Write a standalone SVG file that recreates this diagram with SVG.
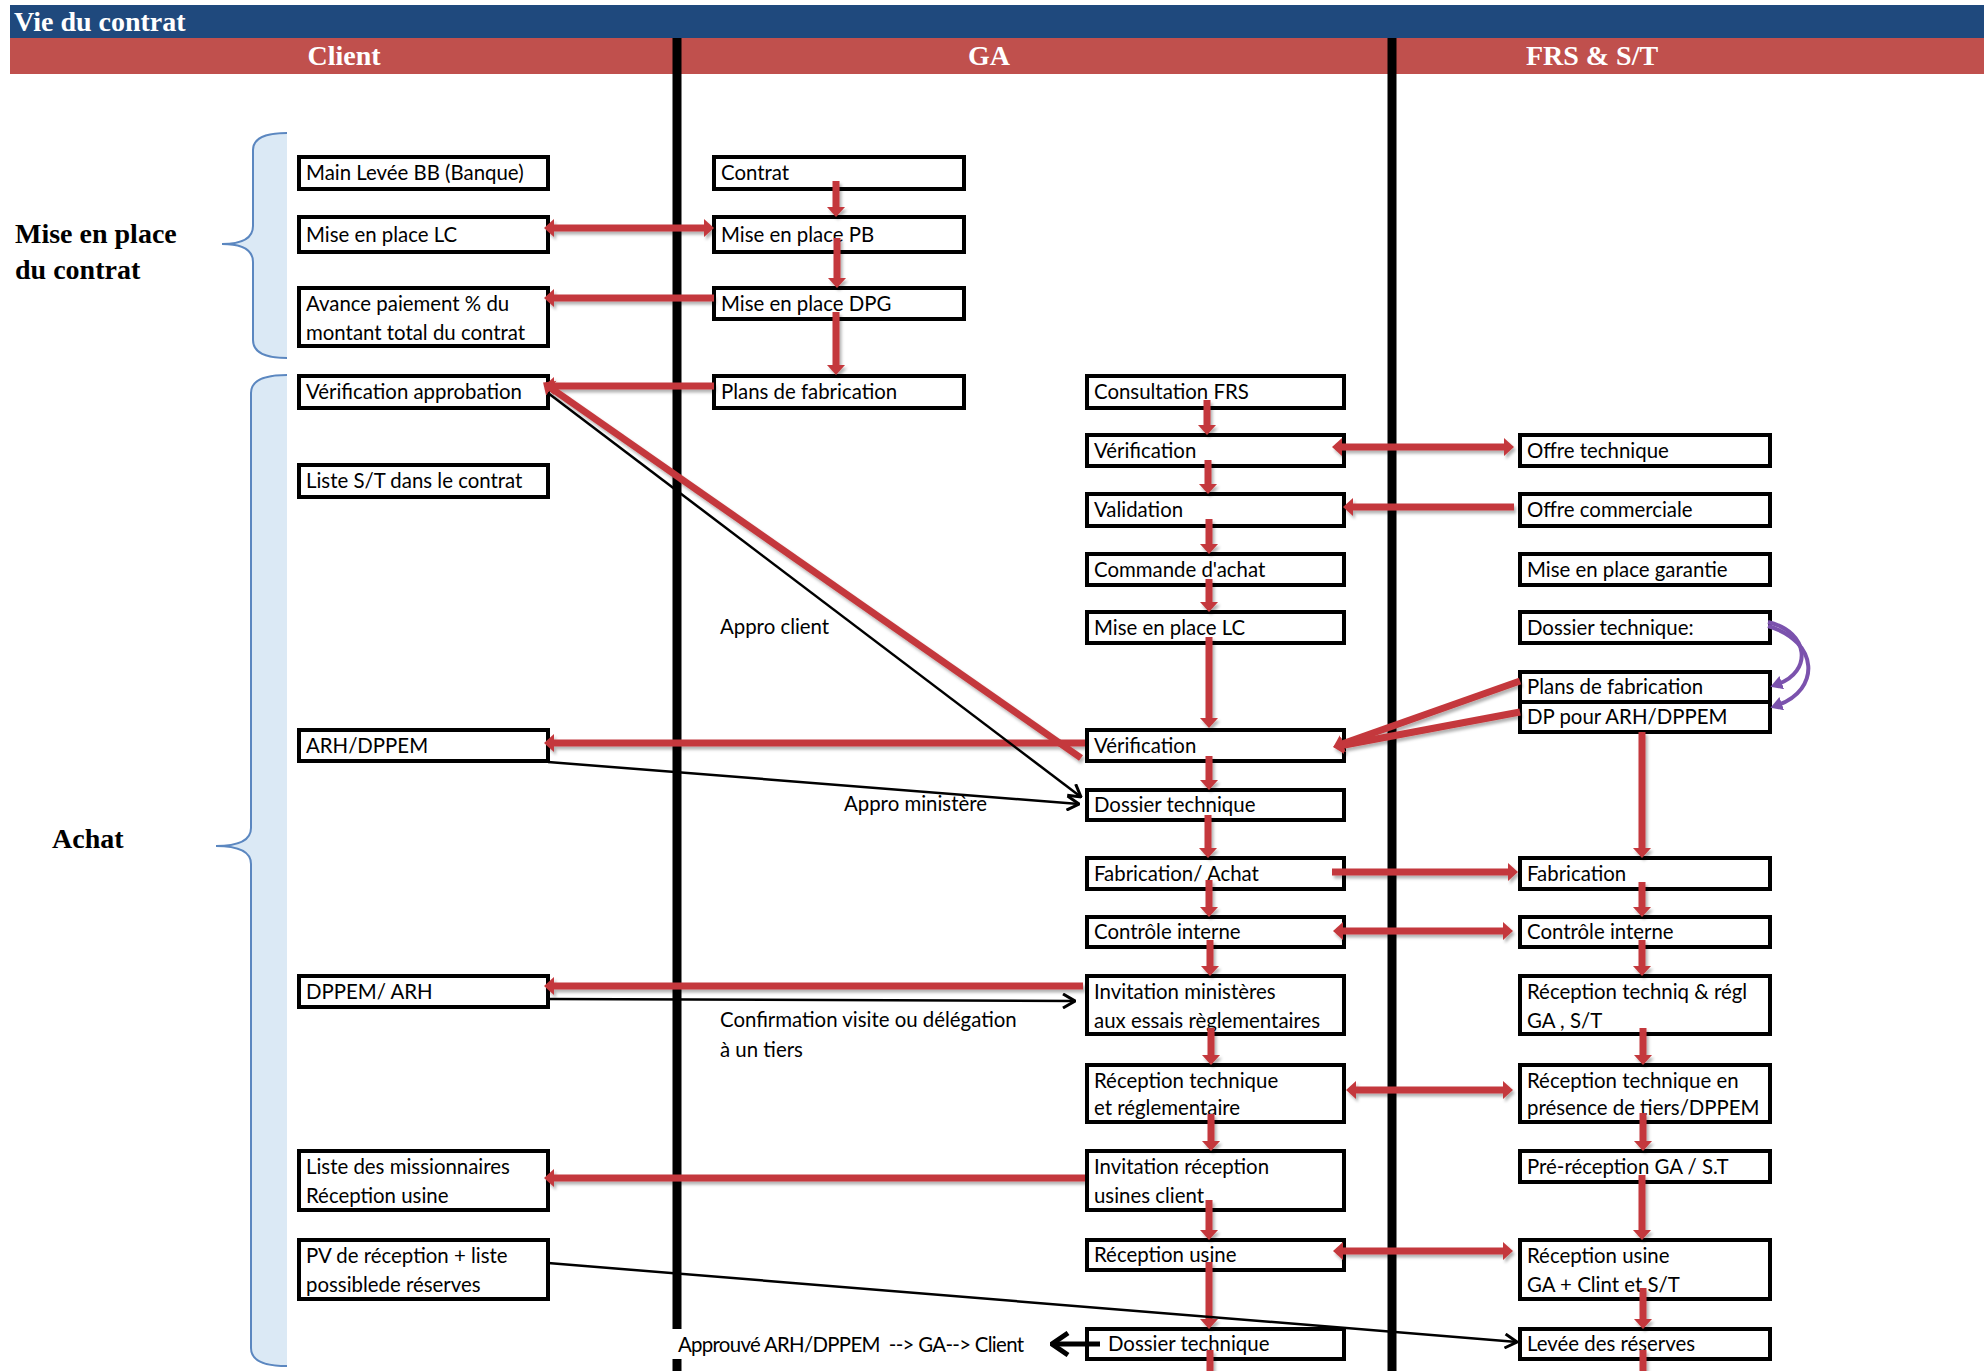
<svg xmlns="http://www.w3.org/2000/svg" width="1988" height="1371" viewBox="0 0 1988 1371">
  <style>
    .box { fill: #fff; stroke: #000; stroke-width: 4; }
    .t { font-family: Lato, "Liberation Sans", sans-serif; font-size: 20.4px; fill: #000; }
    .hd { font-family: "Liberation Serif", serif; font-weight: bold; fill: #fff; }
    .side { font-family: "Liberation Serif", serif; font-weight: bold; font-size: 28px; fill: #000; }
    .red { fill: none; stroke: #c4393c; stroke-width: 7; }
    .blk { fill: none; stroke: #000; stroke-width: 2.5; }
    .lane { stroke: #000; stroke-width: 9; }
    .brace { fill: none; stroke: #5b87c0; stroke-width: 2; }
    .bracefill { fill: #dbe9f5; stroke: none; }
  </style>
  <defs>
    <filter id="sh" filterUnits="userSpaceOnUse" x="0" y="0" width="1988" height="1371">
      <feDropShadow dx="2" dy="3" stdDeviation="1.5" flood-color="#000" flood-opacity="0.3"/>
    </filter>
    <marker id="rh" markerUnits="userSpaceOnUse" viewBox="0 0 10 18" refX="4" refY="9" markerWidth="10" markerHeight="18" orient="auto-start-reverse">
      <path d="M0,0 L10,9 L0,18 Z" fill="#c4393c"/>
    </marker>
    <marker id="bh" markerUnits="userSpaceOnUse" viewBox="0 0 14 16" refX="13" refY="8" markerWidth="14" markerHeight="16" orient="auto">
      <path d="M1,1 L13,8 L1,15" fill="none" stroke="#000" stroke-width="3"/>
    </marker>
    <marker id="bhb" markerUnits="userSpaceOnUse" viewBox="0 0 20 26" refX="18" refY="13" markerWidth="20" markerHeight="26" orient="auto">
      <path d="M2,2 L18,13 L2,24" fill="none" stroke="#000" stroke-width="5"/>
    </marker>
    <marker id="ph" markerUnits="userSpaceOnUse" viewBox="0 0 12 14" refX="4" refY="7" markerWidth="12" markerHeight="14" orient="auto">
      <path d="M0,0 L12,7 L0,14 Z" fill="#7b52ad"/>
    </marker>
  </defs>

  <rect width="1988" height="1371" fill="#fff"/>

  <!-- title and lane headers -->
  <g id="header">
    <rect x="10" y="5" width="1974" height="33" fill="#1f497d"/>
    <text class="hd" x="14" y="31" font-size="28">Vie du contrat</text>
    <rect x="10" y="38" width="1974" height="36" fill="#c0504d"/>
    <text class="hd" x="344" y="65" font-size="28" text-anchor="middle">Client</text>
    <text class="hd" x="989" y="65" font-size="28" text-anchor="middle">GA</text>
    <text class="hd" x="1592" y="65" font-size="28" text-anchor="middle">FRS &amp; S/T</text>
  </g>

  <!-- lane separators -->
  <g id="lanes">
    <line class="lane" x1="677" y1="38" x2="677" y2="1329"/>
    <line class="lane" x1="677" y1="1359" x2="677" y2="1371"/>
    <line class="lane" x1="1392" y1="38" x2="1392" y2="1371"/>
  </g>

  <!-- phase braces -->
  <g id="phase-mise-en-place">
    <path class="bracefill" d="M287,133 Q253,133 253,150 L253,226 Q253,244 222,244 Q253,244 253,262 L253,340 Q253,358 287,358 Z"/>
    <path class="brace" d="M287,133 Q253,133 253,150 L253,226 Q253,244 222,244 Q253,244 253,262 L253,340 Q253,358 287,358"/>
    <text class="side" x="15" y="243">Mise en place</text>
    <text class="side" x="15" y="279">du contrat</text>
  </g>
  <g id="phase-achat">
    <path class="bracefill" d="M287,375 Q251,375 251,393 L251,828 Q251,846 216,846 Q251,846 251,864 L251,1348 Q251,1366 287,1366 Z"/>
    <path class="brace" d="M287,375 Q251,375 251,393 L251,828 Q251,846 216,846 Q251,846 251,864 L251,1348 Q251,1366 287,1366"/>
    <text class="side" x="52" y="848">Achat</text>
  </g>

  <!-- Client lane -->
  <g id="c1"><rect class="box" x="299" y="157" width="249" height="32"/><text class="t" x="306" y="180">Main Levée BB (Banque)</text></g>
  <g id="c2"><rect class="box" x="299" y="217" width="249" height="35"/><text class="t" x="306" y="242">Mise en place LC</text></g>
  <g id="c3"><rect class="box" x="299" y="288" width="249" height="58"/><text class="t" x="306" y="311">Avance paiement % du</text><text class="t" x="306" y="340">montant total du contrat</text></g>
  <g id="c4"><rect class="box" x="299" y="376" width="249" height="32"/><text class="t" x="306" y="399">Vérification approbation</text></g>
  <g id="c5"><rect class="box" x="299" y="465" width="249" height="32"/><text class="t" x="306" y="488">Liste S/T dans le contrat</text></g>
  <g id="c6"><rect class="box" x="299" y="730" width="249" height="31"/><text class="t" x="306" y="753">ARH/DPPEM</text></g>
  <g id="c7"><rect class="box" x="299" y="976" width="249" height="31"/><text class="t" x="306" y="999">DPPEM/ ARH</text></g>
  <g id="c8"><rect class="box" x="299" y="1151" width="249" height="59"/><text class="t" x="306" y="1174">Liste des missionnaires</text><text class="t" x="306" y="1203">Réception usine</text></g>
  <g id="c9"><rect class="box" x="299" y="1240" width="249" height="59"/><text class="t" x="306" y="1263">PV de réception + liste</text><text class="t" x="306" y="1292">possiblede réserves</text></g>

  <!-- GA lane, contract set-up -->
  <g id="g1"><rect class="box" x="714" y="157" width="250" height="32"/><text class="t" x="721" y="180">Contrat</text></g>
  <g id="g2"><rect class="box" x="714" y="217" width="250" height="35"/><text class="t" x="721" y="242">Mise en place PB</text></g>
  <g id="g3"><rect class="box" x="714" y="288" width="250" height="31"/><text class="t" x="721" y="311">Mise en place DPG</text></g>
  <g id="g4"><rect class="box" x="714" y="376" width="250" height="32"/><text class="t" x="721" y="399">Plans de fabrication</text></g>

  <!-- GA lane, purchasing -->
  <g id="r1"><rect class="box" x="1087" y="376" width="257" height="32"/><text class="t" x="1094" y="399">Consultation FRS</text></g>
  <g id="r2"><rect class="box" x="1087" y="435" width="257" height="31"/><text class="t" x="1094" y="458">Vérification</text></g>
  <g id="r3"><rect class="box" x="1087" y="494" width="257" height="32"/><text class="t" x="1094" y="517">Validation</text></g>
  <g id="r4"><rect class="box" x="1087" y="554" width="257" height="31"/><text class="t" x="1094" y="577">Commande d'achat</text></g>
  <g id="r5"><rect class="box" x="1087" y="612" width="257" height="31"/><text class="t" x="1094" y="635">Mise en place LC</text></g>
  <g id="r6"><rect class="box" x="1087" y="730" width="257" height="31"/><text class="t" x="1094" y="753">Vérification</text></g>
  <g id="r7"><rect class="box" x="1087" y="790" width="257" height="30"/><text class="t" x="1094" y="812">Dossier technique</text></g>
  <g id="r8"><rect class="box" x="1087" y="858" width="257" height="31"/><text class="t" x="1094" y="881">Fabrication/ Achat</text></g>
  <g id="r9"><rect class="box" x="1087" y="917" width="257" height="30"/><text class="t" x="1094" y="939">Contrôle interne</text></g>
  <g id="r10"><rect class="box" x="1087" y="976" width="257" height="58"/><text class="t" x="1094" y="999">Invitation ministères</text><text class="t" x="1094" y="1028">aux essais règlementaires</text></g>
  <g id="r11"><rect class="box" x="1087" y="1065" width="257" height="57"/><text class="t" x="1094" y="1088">Réception technique</text><text class="t" x="1094" y="1115">et réglementaire</text></g>
  <g id="r12"><rect class="box" x="1087" y="1151" width="257" height="59"/><text class="t" x="1094" y="1174">Invitation réception</text><text class="t" x="1094" y="1203">usines client</text></g>
  <g id="r13"><rect class="box" x="1087" y="1240" width="257" height="30"/><text class="t" x="1094" y="1262">Réception usine</text></g>
  <g id="r14"><rect class="box" x="1087" y="1329" width="257" height="30"/><text class="t" x="1108" y="1351">Dossier technique</text></g>

  <!-- FRS & S/T lane -->
  <g id="f1"><rect class="box" x="1520" y="435" width="250" height="31"/><text class="t" x="1527" y="458">Offre technique</text></g>
  <g id="f2"><rect class="box" x="1520" y="494" width="250" height="32"/><text class="t" x="1527" y="517">Offre commerciale</text></g>
  <g id="f3"><rect class="box" x="1520" y="554" width="250" height="31"/><text class="t" x="1527" y="577">Mise en place garantie</text></g>
  <g id="f4"><rect class="box" x="1520" y="612" width="250" height="31"/><text class="t" x="1527" y="635">Dossier technique:</text></g>
  <g id="f5"><rect class="box" x="1520" y="672" width="250" height="30"/><text class="t" x="1527" y="694">Plans de fabrication</text></g>
  <g id="f6"><rect class="box" x="1520" y="702" width="250" height="30"/><text class="t" x="1527" y="724">DP pour ARH/DPPEM</text></g>
  <g id="f7"><rect class="box" x="1520" y="858" width="250" height="31"/><text class="t" x="1527" y="881">Fabrication</text></g>
  <g id="f8"><rect class="box" x="1520" y="917" width="250" height="30"/><text class="t" x="1527" y="939">Contrôle interne</text></g>
  <g id="f9"><rect class="box" x="1520" y="976" width="250" height="58"/><text class="t" x="1527" y="999">Réception techniq &amp; régl</text><text class="t" x="1527" y="1028">GA , S/T</text></g>
  <g id="f10"><rect class="box" x="1520" y="1065" width="250" height="57"/><text class="t" x="1527" y="1088">Réception technique en</text><text class="t" x="1527" y="1115">présence de tiers/DPPEM</text></g>
  <g id="f11"><rect class="box" x="1520" y="1151" width="250" height="31"/><text class="t" x="1527" y="1174">Pré-réception GA / S.T</text></g>
  <g id="f12"><rect class="box" x="1520" y="1240" width="250" height="59"/><text class="t" x="1527" y="1263">Réception usine</text><text class="t" x="1527" y="1292">GA + Clint et S/T</text></g>
  <g id="f13"><rect class="box" x="1520" y="1329" width="250" height="30"/><text class="t" x="1527" y="1351">Levée des réserves</text></g>

  <!-- connectors -->
  <g id="connectors">
    <g id="red-flows" filter="url(#sh)">
      <!-- GA set-up chain -->
      <path class="red" marker-end="url(#rh)" d="M836,181 V211"/>
      <path class="red" marker-end="url(#rh)" d="M837,238 V282"/>
      <path class="red" marker-end="url(#rh)" d="M836,312 V369"/>
      <!-- GA to client -->
      <path class="red" marker-start="url(#rh)" marker-end="url(#rh)" d="M708,228 H550"/>
      <path class="red" marker-end="url(#rh)" d="M714,298 H550"/>
      <path class="red" marker-end="url(#rh)" d="M714,386 H550"/>
      <path class="red" marker-end="url(#rh)" d="M1081,758 L548,386"/>
      <path class="red" marker-end="url(#rh)" d="M1085,743 H550"/>
      <path class="red" marker-end="url(#rh)" d="M1083,986 H550"/>
      <path class="red" marker-end="url(#rh)" d="M1085,1178 H550"/>
      <!-- GA purchasing chain -->
      <path class="red" marker-end="url(#rh)" d="M1207,400 V429"/>
      <path class="red" marker-end="url(#rh)" d="M1208,460 V488"/>
      <path class="red" marker-end="url(#rh)" d="M1209,519 V548"/>
      <path class="red" marker-end="url(#rh)" d="M1209,579 V606"/>
      <path class="red" marker-end="url(#rh)" d="M1209,637 V722"/>
      <path class="red" marker-end="url(#rh)" d="M1209,756 V784"/>
      <path class="red" marker-end="url(#rh)" d="M1208,815 V852"/>
      <path class="red" marker-end="url(#rh)" d="M1209,880 V911"/>
      <path class="red" marker-end="url(#rh)" d="M1210,940 V970"/>
      <path class="red" marker-end="url(#rh)" d="M1211,1028 V1059"/>
      <path class="red" marker-end="url(#rh)" d="M1211,1114 V1145"/>
      <path class="red" marker-end="url(#rh)" d="M1209,1200 V1234"/>
      <path class="red" marker-end="url(#rh)" d="M1209,1262 V1323"/>
      <path class="red" d="M1210,1350 V1371"/>
      <!-- supplier chain -->
      <path class="red" marker-end="url(#rh)" d="M1642,732 V852"/>
      <path class="red" marker-end="url(#rh)" d="M1642,882 V911"/>
      <path class="red" marker-end="url(#rh)" d="M1642,940 V970"/>
      <path class="red" marker-end="url(#rh)" d="M1643,1028 V1059"/>
      <path class="red" marker-end="url(#rh)" d="M1643,1113 V1145"/>
      <path class="red" marker-end="url(#rh)" d="M1642,1175 V1234"/>
      <path class="red" marker-end="url(#rh)" d="M1643,1288 V1323"/>
      <path class="red" d="M1643,1350 V1371"/>
      <!-- GA / supplier exchanges -->
      <path class="red" marker-start="url(#rh)" marker-end="url(#rh)" d="M1338,447 H1508"/>
      <path class="red" marker-end="url(#rh)" d="M1514,507 H1349"/>
      <path class="red" marker-end="url(#rh)" d="M1520,681 L1339,745"/>
      <path class="red" marker-end="url(#rh)" d="M1520,712 L1339,746"/>
      <path class="red" marker-end="url(#rh)" d="M1332,872 H1512"/>
      <path class="red" marker-start="url(#rh)" marker-end="url(#rh)" d="M1339,931 H1507"/>
      <path class="red" marker-start="url(#rh)" marker-end="url(#rh)" d="M1352,1090 H1507"/>
      <path class="red" marker-start="url(#rh)" marker-end="url(#rh)" d="M1339,1251 H1507"/>
    </g>
    <g id="purple-links">
      <path fill="none" stroke="#7b52ad" stroke-width="4" marker-end="url(#ph)" d="M1768,622 C1810,632 1812,672 1778,684"/>
      <path fill="none" stroke="#7b52ad" stroke-width="4" marker-end="url(#ph)" d="M1768,626 C1820,642 1820,690 1778,705"/>
    </g>
    <g id="black-links">
      <path class="blk" marker-end="url(#bh)" d="M548,393 L1081,797"/>
      <path class="blk" marker-end="url(#bh)" d="M548,762 L1079,804"/>
      <path class="blk" marker-end="url(#bh)" d="M548,999 L1075,1001"/>
      <path class="blk" marker-end="url(#bh)" d="M548,1263 L1517,1342"/>
      <path fill="none" stroke="#000" stroke-width="5" marker-end="url(#bhb)" d="M1100,1344 L1052,1344"/>
    </g>
    <g id="labels">
      <text class="t" x="720" y="634">Appro client</text>
      <text class="t" x="844" y="811">Appro ministère</text>
      <text class="t" x="720" y="1027">Confirmation visite ou délégation</text>
      <text class="t" x="720" y="1057">à un tiers</text>
      <text class="t" x="678" y="1352" xml:space="preserve" textLength="346" lengthAdjust="spacing">Approuvé ARH/DPPEM  --&gt; GA--&gt; Client</text>
    </g>
  </g>
</svg>
